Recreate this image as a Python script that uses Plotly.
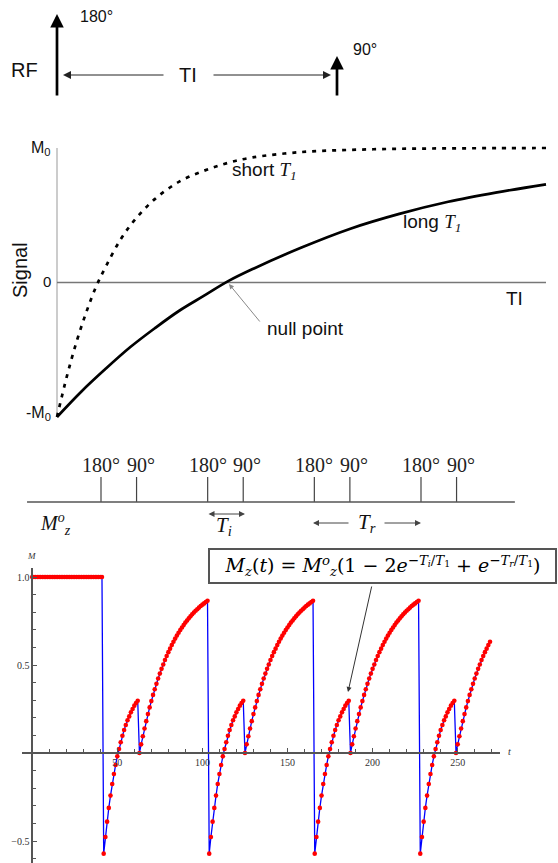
import plotly.graph_objects as go

W, H = 558, 863


def PX(x):
    return x / W


def PY(y):
    return 1 - y / H


def dom_x(v0, p0, v1, p1, r):
    s = (p1 - p0) / (v1 - v0)
    return [(p0 + (r[0] - v0) * s) / W, (p0 + (r[1] - v0) * s) / W]


def dom_y(v0, p0, v1, p1, r):
    s = (p1 - p0) / (v1 - v0)
    a = p0 + (r[0] - v0) * s
    b = p0 + (r[1] - v0) * s
    return sorted([1 - a / H, 1 - b / H])


# ---------------- DATA ----------------
# Panel 2: inversion-recovery signal vs TI (TI as fraction of plotted span, signal in units of M0)
long_ti = [0, 0.05, 0.1, 0.15, 0.2, 0.25, 0.3, 0.35, 0.4, 0.5, 0.6, 0.7, 0.8, 0.9, 1.0]
long_sig = [-1.0, -0.81, -0.64, -0.48, -0.34, -0.21, -0.10, 0.01, 0.10, 0.26, 0.40, 0.51, 0.60, 0.67, 0.73]
short_ti = [0, 0.02, 0.04, 0.06, 0.08, 0.1, 0.13, 0.16, 0.2, 0.25, 0.3, 0.35, 0.4, 0.5, 0.6, 0.7, 0.8, 0.9, 1.0]
short_sig = [-1.0, -0.70, -0.44, -0.22, -0.03, 0.12, 0.32, 0.47, 0.62, 0.75, 0.83, 0.89, 0.93, 0.97,
             0.986, 0.994, 0.997, 0.999, 1.0]

# Panel 3: pulse timing (schematic units, Ti = 1, Tr = 3)
pulse180_pos = [0, 3, 6, 9]
pulse90_pos = [1, 4, 7, 10]
pulse_labels = ["180°", "90°"]

# Panel 4: simulated Mz(t)
flat_end_t = 41
flat_M = 1.0
cycle_starts = [42, 104, 166, 228]
inv_recovery = [-0.572, -0.477, -0.390, -0.312, -0.242, -0.176, -0.119, -0.068, -0.019, 0.023,
                0.061, 0.098, 0.131, 0.159, 0.186, 0.208, 0.231, 0.250, 0.269, 0.284, 0.297]
sat_recovery = [0.0, 0.049, 0.095, 0.139, 0.181, 0.221, 0.259, 0.295, 0.330, 0.362, 0.393,
                0.423, 0.451, 0.478, 0.503, 0.528, 0.551, 0.573, 0.593, 0.613, 0.632,
                0.650, 0.667, 0.683, 0.699, 0.713, 0.727, 0.741, 0.753, 0.765, 0.777,
                0.788, 0.798, 0.808, 0.817, 0.826, 0.835, 0.843, 0.850, 0.858, 0.865]
last_recovery_len = 21
x_major = [50, 100, 150, 200, 250]
y_major = [-0.5, 0.5, 1.0]
y_major_text = ["\u22120.5", "0.5", "1.0"]

# build Mz series from the segments
t_vals = list(range(0, flat_end_t + 1))
m_vals = [flat_M] * len(t_vals)
for k, s in enumerate(cycle_starts):
    rec = sat_recovery if k < len(cycle_starts) - 1 else sat_recovery[:last_recovery_len]
    seg = inv_recovery + rec
    t_vals += [s + i for i in range(len(seg))]
    m_vals += seg

SANS = "Liberation Sans, Arial, sans-serif"
SERIF = "Liberation Serif, Times New Roman, serif"
MATH = "DejaVu Serif, serif"

fig = go.Figure()

# ---------------- Panel 2 traces (x/y) ----------------
fig.add_trace(go.Scatter(x=short_ti, y=short_sig, mode="lines", xaxis="x", yaxis="y",
                         line=dict(color="black", width=2.7, dash="4px,6px", shape="spline"),
                         hoverinfo="skip", showlegend=False))
fig.add_trace(go.Scatter(x=long_ti, y=long_sig, mode="lines", xaxis="x", yaxis="y",
                         line=dict(color="black", width=2.7, shape="spline"),
                         hoverinfo="skip", showlegend=False))

# ---------------- Panel 3 traces (x2/y2) ----------------
tx, ty = [], []
for p in pulse180_pos + pulse90_pos:
    tx += [p, p, None]
    ty += [0, 1, None]
fig.add_trace(go.Scatter(x=tx, y=ty, mode="lines", xaxis="x2", yaxis="y2",
                         line=dict(color="#444", width=1.2), hoverinfo="skip", showlegend=False))

# ---------------- Panel 4 traces (x3/y3) ----------------
fig.add_trace(go.Scatter(x=t_vals, y=m_vals, mode="lines+markers", xaxis="x3", yaxis="y3",
                         line=dict(color="#0000ff", width=1.3),
                         marker=dict(color="#ff0000", size=4.6, line=dict(width=0)),
                         hoverinfo="skip", showlegend=False))

# ---------------- Axes ----------------
r1x = [-0.04, 1.02]
r1y = [-1.1, 1.1]
r2x = [-2.2, 12.0]
r2y = [-1.5, 2.2]
r3x = [-6, 275]
r3y = [-0.625, 1.051]

fig.update_layout(
    width=W, height=H, margin=dict(l=0, r=0, t=0, b=0),
    paper_bgcolor="white", plot_bgcolor="rgba(0,0,0,0)",
    showlegend=False,
    xaxis=dict(domain=dom_x(0, 57, 1, 546, r1x), range=r1x, visible=False, anchor="y"),
    yaxis=dict(domain=dom_y(-1, 417, 1, 148, r1y), range=r1y, visible=False, anchor="x"),
    xaxis2=dict(domain=dom_x(0, 101, 9, 421, r2x), range=r2x, visible=False, anchor="y2"),
    yaxis2=dict(domain=dom_y(0, 502, 1, 477, r2y), range=r2y, visible=False, anchor="x2"),
    xaxis3=dict(domain=dom_x(0, 32.2, 50, 117.3, r3x), range=r3x, anchor="free",
                position=PY(753), showline=True, linecolor="#555", linewidth=1.5,
                showgrid=False, zeroline=False, ticks="inside", ticklen=4, tickwidth=1,
                tickcolor="#555", tickvals=x_major, ticktext=[str(v) for v in x_major],
                tickfont=dict(family=SERIF, size=10, color="#333"),
                minor=dict(tickvals=[v for v in range(10, 280, 10) if v % 50 != 0],
                           ticks="inside", ticklen=3, tickwidth=1, tickcolor="#555",
                           showgrid=False)),
    yaxis3=dict(domain=dom_y(0, 753, 1, 577, r3y), range=r3y, anchor="free",
                position=PX(32.2), showline=True, linecolor="#555", linewidth=1.5,
                showgrid=False, zeroline=False, ticks="inside", ticklen=4, tickwidth=1,
                tickcolor="#555", tickvals=y_major, ticktext=y_major_text,
                tickfont=dict(family=SERIF, size=10, color="#333"),
                minor=dict(tickvals=[-0.6, -0.4, -0.3, -0.2, -0.1, 0.1, 0.2, 0.3, 0.4,
                                     0.6, 0.7, 0.8, 0.9],
                           ticks="inside", ticklen=3, tickwidth=1, tickcolor="#555",
                           showgrid=False)),
)

shapes = []
# panel 2 axes
shapes.append(dict(type="line", xref="x", yref="y", x0=0, x1=0, y0=-1, y1=1,
                   line=dict(color="#aaa", width=1.2), layer="below"))
shapes.append(dict(type="line", xref="x", yref="y", x0=0, x1=1, y0=0, y1=0,
                   line=dict(color="#777", width=1.5), layer="below"))
# panel 3 baseline
shapes.append(dict(type="line", xref="x2", yref="y2", x0=-2.08, x1=11.64, y0=0, y1=0,
                   line=dict(color="#555", width=1.3)))
fig.update_layout(shapes=shapes)

ann = []


def txt(x, y, s, size, family=SANS, xanchor="center", yanchor="middle", xref="paper",
        yref="paper", color="#111", **kw):
    d = dict(x=x, y=y, text=s, showarrow=False, xref=xref, yref=yref, xanchor=xanchor,
             yanchor=yanchor, font=dict(family=family, size=size, color=color))
    d.update(kw)
    ann.append(d)


def arrow(hx, hy, tx_, ty_, width=1.0, size=1.0, color="black", head=2, side="end"):
    ann.append(dict(x=PX(hx), y=PY(hy), xref="paper", yref="paper", text="",
                    showarrow=True, ax=tx_ - hx, ay=ty_ - hy, axref="pixel", ayref="pixel",
                    arrowhead=head, arrowsize=size, arrowwidth=width, arrowcolor=color,
                    arrowside=side, startarrowhead=head, startarrowsize=size,
                    standoff=0, startstandoff=0))


# ---------------- Panel 1: RF diagram ----------------
txt(PX(24), PY(70), "RF", 20)
arrow(57, 14, 57, 97, width=2.7, size=1.0)
txt(PX(96), PY(17), "180°", 16)
arrow(337, 56, 337, 97, width=2.7, size=1.0)
txt(PX(365), PY(49), "90°", 16)
arrow(63, 75, 165, 75, width=1.0, size=1.6, color="#222")
txt(PX(188), PY(75), "TI", 20)
arrow(331, 75, 212, 75, width=1.0, size=1.6, color="#222")

# ---------------- Panel 2 labels ----------------
TI1 = "<span style='font-family:Liberation Serif'><i>T</i><sub><i>1</i></sub></span>"
txt(PX(53), PY(148), "M<sub>0</sub>", 16, xanchor="right")
txt(PX(53), PY(281), "0", 15, xanchor="right")
txt(PX(53), PY(414), "-M<sub>0</sub>", 16, xanchor="right")
txt(PX(20), PY(270), "Signal", 20, textangle=-90)
txt(PX(230), PY(171), "short " + TI1, 19, xanchor="left")
txt(PX(401), PY(223), "long " + TI1, 19, xanchor="left")
txt(PX(504), PY(298), "TI", 19, xanchor="left")
txt(PX(265), PY(328), "null point", 19, xanchor="left")
arrow(229, 284, 261, 323, width=1.0, size=1.0, color="#888")

# ---------------- Panel 3 labels ----------------
for p in pulse180_pos:
    txt(p, 1.48, pulse_labels[0], 20, family=SERIF, xref="x2", yref="y2", color="#222")
for p in pulse90_pos:
    txt(p, 1.48, pulse_labels[1], 20, family=SERIF, xref="x2", yref="y2", color="#222",
        xshift=4)
txt(PX(55), PY(524), "<i>M</i><sup><i>o</i></sup><sub><i>z</i></sub>", 20, family=SERIF)
ann.append(dict(x=PX(245), y=PY(514), xref="paper", yref="paper", text="", showarrow=True,
                ax=-38, ay=0, axref="pixel", ayref="pixel", arrowhead=2, arrowsize=1.2,
                arrowwidth=1, arrowcolor="#444", arrowside="end+start",
                startarrowhead=2, startarrowsize=1.2, standoff=0, startstandoff=0))
txt(PX(224), PY(526), "<i>T</i><sub><i>i</i></sub>", 21, family=SERIF)
arrow(313, 523, 350, 523, width=1.0, size=1.2, color="#444")
arrow(421, 523, 383, 523, width=1.0, size=1.2, color="#444")
txt(PX(367), PY(523), "<i>T</i><sub><i>r</i></sub>", 21, family=SERIF)

# ---------------- Panel 4 labels ----------------
txt(PX(31), PY(556), "<i>M</i>", 9, family=SERIF, color="#333")
txt(PX(509), PY(751), "<i>t</i>", 10, family=SERIF, color="#333")
formula = ("<i>M</i><sub><i>z</i></sub>(<i>t</i>) = <i>M</i><sup><i>o</i></sup><sub><i>z</i></sub>"
           "(1 \u2212 2<i>e</i><sup>\u2212<i>T</i><sub><i>i</i></sub>/<i>T</i><sub>1</sub></sup>"
           " + <i>e</i><sup>\u2212<i>T</i><sub><i>r</i></sub>/<i>T</i><sub>1</sub></sup>)")
ann.append(dict(x=PX(382.5), y=PY(566), xref="paper", yref="paper", text=formula,
                showarrow=False, xanchor="center", yanchor="middle",
                font=dict(family=MATH, size=19, color="black"),
                bordercolor="#555", borderwidth=2, borderpad=2, bgcolor="white",
                width=341, height=28))
arrow(348, 692, 372, 585, width=1.0, size=1.0, color="#333")

fig.update_layout(annotations=ann)
fig.write_html("out.html")
